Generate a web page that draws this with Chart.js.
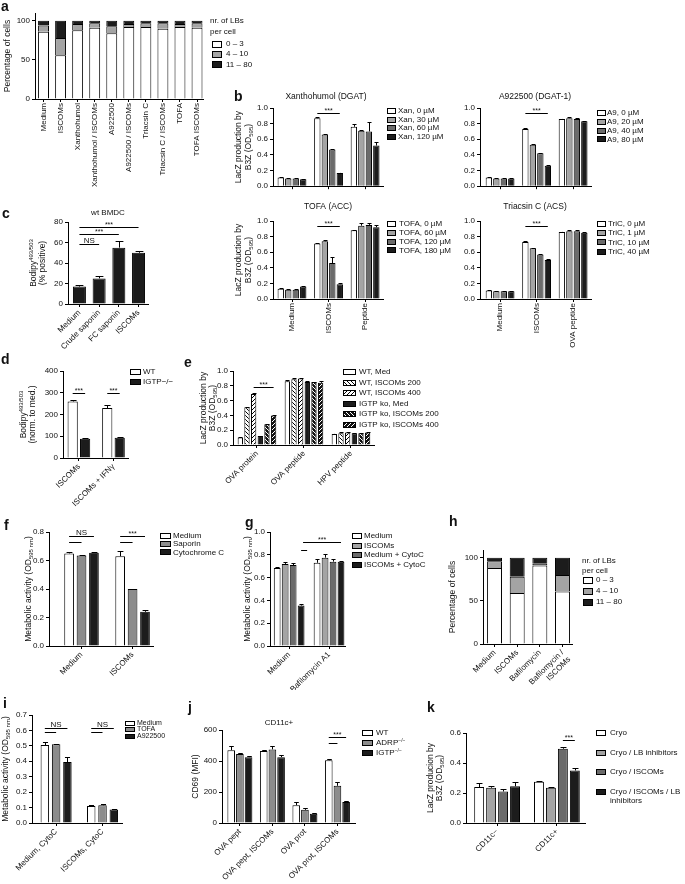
<!DOCTYPE html>
<html lang="en">
<head>
<meta charset="UTF-8">
<title>Lipid bodies figure</title>
<script src="https://cdn.jsdelivr.net/npm/chart.js@4.4.1/dist/chart.umd.min.js"></script>
<style>
  body { margin: 0; background: #fff; }
  #fig { position: relative; width: 685px; height: 884px; overflow: hidden; }
  #fig canvas { position: absolute; }
</style>
</head>
<body>
<div id="fig"></div>
<script>
// ---- data ----
const lbLabels = ['0 \u2013 3', '4 \u2013 10', '11 \u2013 80'];

const aCats = ['Medium', 'ISCOMs', 'Xanthohumol', 'Xanthohumol / ISCOMs', 'A922500', 'A922500 / ISCOMs',
  'Triacsin C', 'Triacsin C / ISCOMs', 'TOFA', 'TOFA ISCOMs'];
const aLow  = [86, 56, 88, 91, 84, 92, 92, 90, 92, 91];
const aMid  = [8, 22, 8, 6, 9, 4, 5, 7, 4, 6];
const aHigh = [6, 22, 4, 3, 7, 4, 3, 3, 4, 3];
const aTicks = [0, 50, 100];

const bCats = ['Medium', 'ISCOMs', 'Peptide'];
const bCatsOva = ['Medium', 'ISCOMs', 'OVA peptide'];
const odTicks = [0, 0.2, 0.4, 0.6, 0.8, 1.0];
const xanLabels = ['Xan, 0 \u00b5M', 'Xan, 30 \u00b5M', 'Xan, 60 \u00b5M', 'Xan, 120 \u00b5M'];
const xanVals = [[0.11, 0.87, 0.76], [0.10, 0.66, 0.71], [0.10, 0.47, 0.70], [0.09, 0.17, 0.52]];
const xanErr  = [[0.005, 0.01, 0.03], [0.005, 0.005, 0.01], [0.005, 0.01, 0.12], [0.005, 0.005, 0.04]];
const a9Labels = ['A9, 0 \u00b5M', 'A9, 20 \u00b5M', 'A9, 40 \u00b5M', 'A9, 80 \u00b5M'];
const a9Vals = [[0.11, 0.73, 0.86], [0.10, 0.53, 0.87], [0.10, 0.42, 0.86], [0.10, 0.26, 0.83]];
const a9Err  = [[0.005, 0.01, 0.005], [0.005, 0.01, 0.01], [0.005, 0.01, 0.01], [0.005, 0.01, 0.01]];
const tofaLabels = ['TOFA, 0 \u00b5M', 'TOFA, 60 \u00b5M', 'TOFA, 120 \u00b5M', 'TOFA, 180 \u00b5M'];
const tofaVals = [[0.13, 0.71, 0.88], [0.12, 0.74, 0.94], [0.12, 0.46, 0.95], [0.16, 0.19, 0.92]];
const tofaErr  = [[0.01, 0.01, 0.01], [0.005, 0.02, 0.03], [0.005, 0.08, 0.02], [0.01, 0.01, 0.03]];
const tricLabels = ['TriC, 0 \u00b5M', 'TriC, 1 \u00b5M', 'TriC, 10 \u00b5M', 'TriC, 40 \u00b5M'];
const tricVals = [[0.11, 0.73, 0.86], [0.10, 0.65, 0.87], [0.10, 0.57, 0.87], [0.10, 0.50, 0.85]];
const tricErr  = [[0.01, 0.01, 0.005], [0.005, 0.01, 0.01], [0.005, 0.01, 0.02], [0.005, 0.01, 0.005]];

const cCats = ['Medium', 'Crude saponin', 'FC saponin', 'ISCOMs'];
const cVals = [17, 25, 55, 50];
const cErr  = [2, 2, 6, 2];

const dCats = ['ISCOMs', 'ISCOMs + IFN\u03b3'];
const dWT = [260, 230], dWTerr = [5, 15];
const dKO = [88, 93],   dKOerr = [6, 4];

const eCats = ['OVA protein', 'OVA peptide', 'HPV peptide'];
const eLabels = ['WT, Med', 'WT, ISCOMs 200', 'WT, ISCOMs 400', 'IGTP ko, Med', 'IGTP ko, ISCOMs 200', 'IGTP ko, ISCOMs 400'];
const eVals = [[0.10, 0.86, 0.15], [0.51, 0.89, 0.16], [0.69, 0.90, 0.17],
               [0.12, 0.85, 0.16], [0.28, 0.85, 0.16], [0.40, 0.84, 0.17]];
const eErr  = [[0.005, 0.02, 0.005], [0.01, 0.01, 0.01], [0.01, 0.01, 0.01],
               [0.005, 0.01, 0.005], [0.005, 0.005, 0.005], [0.01, 0.03, 0.01]];

const fCats = ['Medium', 'ISCOMs'];
const fLabels = ['Medium', 'Saporin', 'Cytochrome C'];
const fVals = [[0.65, 0.63], [0.635, 0.40], [0.655, 0.24]];
const fErr  = [[0.01, 0.04], [0.003, 0.003], [0.002, 0.01]];

const gCats = ['Medium', 'Bafilomycin A1'];
const gLabels = ['Medium', 'ISCOMs', 'Medium + CytoC', 'ISCOMs + CytoC'];
const gVals = [[0.685, 0.73], [0.72, 0.775], [0.71, 0.74], [0.355, 0.74]];
const gErr  = [[0.01, 0.03], [0.02, 0.03], [0.02, 0.02], [0.01, 0.01]];

const hCats = ['Medium', 'ISCOMs', 'Bafilomycin', ['Bafilomycin /', 'ISCOMs']];
const hLow  = [88, 59, 91, 61];
const hMid  = [8, 19, 2, 19];
const hHigh = [4, 22, 7, 20];

const iCats = ['Medium, CytoC', 'ISCOMs, CytoC'];
const iLabels = ['Medium', 'TOFA', 'A922500'];
const iVals = [[0.505, 0.11], [0.51, 0.115], [0.395, 0.088]];
const iErr  = [[0.02, 0.005], [0.003, 0.01], [0.03, 0.003]];

const jCats = ['OVA pept', 'OVA pept, ISCOMs', 'OVA prot', 'OVA prot, ISCOMs'];
const jLabels = ['WT', 'ADRP^{\u2212/\u2212}', 'IGTP^{\u2212/\u2212}'];
const jVals = [[470, 465, 115, 405], [445, 475, 85, 240], [425, 425, 60, 135]];
const jErr  = [[30, 8, 20, 8], [5, 25, 10, 25], [10, 15, 5, 8]];

const kCats = ['CD11c\u2212', 'CD11c+'];
const kLabels = ['Cryo', 'Cryo / LB inhibitors', 'Cryo / ISCOMs', ['Cryo / ISCOMs / LB', 'inhibitors']];
const kVals = [[0.24, 0.275], [0.235, 0.235], [0.21, 0.495], [0.245, 0.35]];
const kErr  = [[0.03, 0.003], [0.015, 0.008], [0.02, 0.01], [0.03, 0.02]];

// ---- style ----
const FONT = "'Liberation Sans', Arial, sans-serif";
const W = '#ffffff', G1 = '#a4a4a4', G2 = '#6b6b6b', GM = '#8c8c8c', K = '#1c1c1c';
Chart.defaults.font.family = FONT;
Chart.defaults.font.size = 8;
Chart.defaults.color = '#111';

const fig = document.getElementById('fig');

function hatch(bg, fg, dir) {
  const s = 4, c = document.createElement('canvas');
  c.width = c.height = s;
  const x = c.getContext('2d');
  x.fillStyle = bg; x.fillRect(0, 0, s, s);
  x.strokeStyle = fg; x.lineWidth = 1;
  x.beginPath();
  if (dir > 0) { x.moveTo(-1, s + 1); x.lineTo(s + 1, -1); }
  else { x.moveTo(-1, -1); x.lineTo(s + 1, s + 1); }
  x.stroke();
  return x.createPattern(c, 'repeat');
}

// text with _{sub} and ^{sup}
function drawRich(ctx, s, x, y, size, align) {
  const parts = [];
  const re = /([_^])\{([^}]*)\}/g;
  let last = 0, m;
  while ((m = re.exec(s))) {
    if (m.index > last) parts.push({ t: s.slice(last, m.index), k: '' });
    parts.push({ t: m[2], k: m[1] });
    last = re.lastIndex;
  }
  if (last < s.length) parts.push({ t: s.slice(last), k: '' });
  const small = Math.round(size * 0.68);
  let w = 0;
  parts.forEach(p => { ctx.font = (p.k ? small : size) + 'px ' + FONT; p.w = ctx.measureText(p.t).width; w += p.w; });
  let cx = align === 'center' ? x - w / 2 : align === 'right' ? x - w : x;
  ctx.textAlign = 'left';
  ctx.textBaseline = 'middle';
  parts.forEach(p => {
    ctx.font = (p.k ? small : size) + 'px ' + FONT;
    const dy = p.k === '_' ? size * 0.3 : p.k === '^' ? -size * 0.35 : 0;
    ctx.fillText(p.t, cx, y + dy);
    cx += p.w;
  });
}

// error bars, significance lines, axis titles, legends, labels
function deco(o) {
  const bx = o.box.x, by = o.box.y;
  return {
    id: 'deco',
    afterDraw(chart) {
      const ctx = chart.ctx, ys = chart.scales.y, ca = chart.chartArea;
      ctx.save();
      ctx.strokeStyle = '#000';
      ctx.lineWidth = 1;
      (o.err || []).forEach((errs, di) => {
        if (!errs) return;
        const ds = chart.data.datasets[di];
        chart.getDatasetMeta(di).data.forEach((el, k) => {
          const e = errs[k];
          if (!e) return;
          const x = Math.round(el.x) + 0.5;
          const y1 = Math.round(ys.getPixelForValue(ds.data[k] + e)) + 0.5;
          const hw = Math.max(2, el.width * 0.3);
          ctx.beginPath();
          ctx.moveTo(x, el.y); ctx.lineTo(x, y1);
          ctx.moveTo(x - hw, y1); ctx.lineTo(x + hw, y1);
          ctx.stroke();
        });
      });
      ctx.fillStyle = '#111';
      (o.sig || []).forEach(s => {
        const px = p => chart.getDatasetMeta(p[1]).data[p[0]].x + (p[2] || 0);
        const x1 = px(s.a), x2 = px(s.b);
        const y = Math.round(ys.getPixelForValue(s.y)) + 0.5;
        ctx.beginPath(); ctx.moveTo(x1, y); ctx.lineTo(x2, y); ctx.stroke();
        if (s.t) {
          const ns = s.t === 'NS';
          ctx.font = (ns ? 8 : 7) + 'px ' + FONT;
          ctx.textAlign = 'center';
          ctx.textBaseline = 'alphabetic';
          ctx.fillText(s.t, (x1 + x2) / 2, y - (ns ? 1.5 : 0.5));
        }
      });
      if (o.yTitle) {
        const cy = (ca.top + ca.bottom) / 2;
        o.yTitle.lines.forEach((ln, i) => {
          ctx.save();
          ctx.translate(o.yTitle.x[i] - bx, cy);
          ctx.rotate(-Math.PI / 2);
          drawRich(ctx, ln, 0, 0, o.yTitle.size || 8.5, 'center');
          ctx.restore();
        });
      }
      const L = o.legend;
      if (L) {
        const fs = L.size || 8;
        (L.head || []).forEach(h => {
          ctx.fillStyle = '#111';
          drawRich(ctx, h[0], h[1] - bx, h[2] - by, fs, 'left');
        });
        L.labels.forEach((lab, i) => {
          const y = L.y + i * L.row - by;
          const rx = Math.round(L.x - bx), ry = Math.round(y - L.bh / 2);
          ctx.fillStyle = L.fills[i];
          ctx.fillRect(rx, ry, L.bw, L.bh);
          ctx.strokeRect(rx + 0.5, ry + 0.5, L.bw - 1, L.bh - 1);
          ctx.fillStyle = '#111';
          [].concat(lab).forEach((t, j) => drawRich(ctx, t, L.tx - bx, y + j * (fs + 1.5), fs, 'left'));
        });
      }
      (o.texts || []).forEach(t => {
        ctx.fillStyle = '#111';
        ctx.font = (t.bold ? 'bold ' : '') + (t.size || 8) + 'px ' + FONT;
        ctx.textAlign = t.align || 'left';
        ctx.textBaseline = t.bold ? 'alphabetic' : 'middle';
        ctx.fillText(t.t, t.x - bx, t.y - by);
      });
      ctx.restore();
    }
  };
}

function panel(o) {
  const c = document.createElement('canvas');
  c.width = o.box.w; c.height = o.box.h;
  c.style.left = o.box.x + 'px';
  c.style.top = o.box.y + 'px';
  fig.appendChild(c);
  const yw = o.yw || 22;
  const xh = o.box.y + o.box.h - o.plot.b;
  const datasets = o.sets.map(s => ({
    data: s.d, backgroundColor: s.c, borderColor: '#000', borderWidth: 1,
    barPercentage: o.bp, categoryPercentage: o.cp
  }));
  new Chart(c, {
    type: 'bar',
    data: { labels: o.cats.map((_, i) => i), datasets },
    options: {
      responsive: false, animation: false, events: [], devicePixelRatio: 1,
      layout: {
        autoPadding: false,
        padding: { left: o.plot.l - o.box.x - yw, top: o.plot.t - o.box.y, right: o.box.x + o.box.w - o.plot.r, bottom: 0 }
      },
      plugins: { legend: { display: false }, tooltip: { enabled: false } },
      scales: {
        x: {
          type: 'linear', min: o.xr[0], max: o.xr[1], offset: false, stacked: !!o.stacked,
          grid: { offset: false, drawOnChartArea: false, tickLength: 3, color: '#000' },
          border: { color: '#000', width: 1 },
          ticks: {
            autoSkip: false, minRotation: o.rot || 0, maxRotation: o.rot || 0, padding: 1,
            font: { size: 8 }, color: '#111',
            callback: v => (o.noX ? '' : o.cats[v])
          },
          afterBuildTicks: s => { s.ticks = o.cats.map((_, i) => ({ value: i })); },
          afterFit: s => { s.height = xh; }
        },
        y: {
          min: 0, max: o.y.max, stacked: !!o.stacked,
          grid: { drawOnChartArea: false, tickLength: 3, color: '#000' },
          border: { color: '#000', width: 1 },
          ticks: { padding: 2, font: { size: 8 }, color: '#111', callback: v => v.toFixed(o.y.dec) },
          afterBuildTicks: s => { s.ticks = o.y.ticks.map(v => ({ value: v })); },
          afterFit: s => { s.width = yw; }
        }
      }
    },
    plugins: [deco(o)]
  });
}

const four = [W, G1, G2, K];
const setsOf = (vals, fills) => vals.map((d, i) => ({ d, c: fills[i] }));
const lacz = ['LacZ production by', 'B3Z (OD_{595})'];

// a
panel({
  box: { x: 0, y: 0, w: 300, h: 195 }, plot: { l: 35, t: 13, r: 203, b: 99 },
  cats: aCats, xr: [-0.5, 9.35], rot: 90, stacked: true,
  y: { max: 110, ticks: aTicks, dec: 0 },
  sets: [{ d: aLow, c: W }, { d: aMid, c: G1 }, { d: aHigh, c: K }], bp: 0.64, cp: 1,
  yTitle: { x: [8], lines: ['Percentage of cells'] },
  legend: { x: 212, y: 44, row: 10.2, bw: 10, bh: 7, tx: 226, labels: lbLabels, fills: [W, G1, K],
    head: [['nr. of LBs', 210, 21], ['per cell', 210, 32]] },
  texts: [{ t: 'a', x: 1, y: 11, bold: true, size: 14 }]
});

// b, four inhibitors
panel({
  box: { x: 225, y: 88, w: 230, h: 105 }, plot: { l: 273, t: 108, r: 383, b: 187 },
  cats: bCats, xr: [-0.52, 2.49], noX: true,
  y: { max: 1, ticks: odTicks, dec: 1 },
  sets: setsOf(xanVals, four), err: xanErr, bp: 0.85, cp: 0.82,
  sig: [{ a: [1, 0], b: [1, 3], y: 0.94, t: '***' }],
  yTitle: { x: [239, 249], lines: lacz },
  legend: { x: 387, y: 111, row: 8.6, bw: 9, bh: 6, tx: 398, labels: xanLabels, fills: four },
  texts: [{ t: 'Xanthohumol (DGAT)', x: 326, y: 97, align: 'center', size: 8.5 },
          { t: 'b', x: 234, y: 101, bold: true, size: 14 }]
});
panel({
  box: { x: 455, y: 88, w: 230, h: 105 }, plot: { l: 480, t: 108, r: 591, b: 187 },
  cats: bCats, xr: [-0.55, 2.49], noX: true,
  y: { max: 1, ticks: odTicks, dec: 1 },
  sets: setsOf(a9Vals, four), err: a9Err, bp: 0.85, cp: 0.82,
  sig: [{ a: [1, 0], b: [1, 3], y: 0.94, t: '***' }],
  legend: { x: 597, y: 113, row: 8.8, bw: 9, bh: 6, tx: 607, labels: a9Labels, fills: four },
  texts: [{ t: 'A922500 (DGAT-1)', x: 535, y: 97, align: 'center', size: 8.5 }]
});
panel({
  box: { x: 225, y: 198, w: 230, h: 152 }, plot: { l: 273, t: 221, r: 383, b: 299 },
  cats: bCats, xr: [-0.52, 2.49], rot: 90,
  y: { max: 1, ticks: odTicks, dec: 1 },
  sets: setsOf(tofaVals, four), err: tofaErr, bp: 0.85, cp: 0.82,
  sig: [{ a: [1, 0], b: [1, 3], y: 0.94, t: '***' }],
  yTitle: { x: [239, 249], lines: lacz },
  legend: { x: 387, y: 224, row: 8.8, bw: 9, bh: 6, tx: 399, labels: tofaLabels, fills: four },
  texts: [{ t: 'TOFA (ACC)', x: 328, y: 207, align: 'center', size: 8.5 }]
});
panel({
  box: { x: 455, y: 198, w: 230, h: 152 }, plot: { l: 480, t: 221, r: 591, b: 299 },
  cats: bCatsOva, xr: [-0.55, 2.49], rot: 90,
  y: { max: 1, ticks: odTicks, dec: 1 },
  sets: setsOf(tricVals, four), err: tricErr, bp: 0.85, cp: 0.82,
  sig: [{ a: [1, 0], b: [1, 3], y: 0.94, t: '***' }],
  legend: { x: 597, y: 224, row: 9.2, bw: 9, bh: 6, tx: 608, labels: tricLabels, fills: four },
  texts: [{ t: 'Triacsin C (ACS)', x: 535, y: 207, align: 'center', size: 8.5 }]
});

// c
panel({
  box: { x: 0, y: 200, w: 225, h: 150 }, plot: { l: 68, t: 222, r: 148, b: 304 },
  cats: cCats, xr: [-0.58, 3.48], rot: 45,
  y: { max: 80, ticks: [0, 20, 40, 60, 80], dec: 0 },
  sets: [{ d: cVals, c: K }], err: [cErr], bp: 0.66, cp: 1,
  sig: [{ a: [0, 0], b: [1, 0], y: 58.5, t: 'NS' }, { a: [0, 0], b: [2, 0], y: 68, t: '***' },
        { a: [0, 0], b: [3, 0], y: 75, t: '***' }],
  yTitle: { x: [34, 43], lines: ['Bodipy^{493/503}', '(% positive)'] },
  texts: [{ t: 'wt BMDC', x: 108, y: 213, align: 'center' }, { t: 'c', x: 2, y: 218, bold: true, size: 14 }]
});

// d
panel({
  box: { x: 0, y: 350, w: 180, h: 160 }, plot: { l: 63, t: 371, r: 128, b: 458 },
  cats: dCats, xr: [-0.46, 1.42], rot: 45,
  y: { max: 400, ticks: [0, 100, 200, 300, 400], dec: 0 },
  sets: [{ d: dWT, c: W }, { d: dKO, c: K }], err: [dWTerr, dKOerr], bp: 0.82, cp: 0.72,
  sig: [{ a: [0, 0], b: [0, 1], y: 300, t: '***' }, { a: [1, 0], b: [1, 1], y: 300, t: '***' }],
  yTitle: { x: [24, 33], lines: ['Bodipy^{493/503}', '(norm. to med.)'] },
  legend: { x: 130, y: 372, row: 10, bw: 11, bh: 6, tx: 143, labels: ['WT', 'IGTP\u2212/\u2212'], fills: [W, K] },
  texts: [{ t: 'd', x: 1, y: 364, bold: true, size: 14 }]
});

// e
const eFills = [W, hatch('#fff', '#000', -1), hatch('#fff', '#000', 1), K, hatch('#111', '#fff', -1), hatch('#111', '#fff', 1)];
panel({
  box: { x: 180, y: 350, w: 320, h: 160 }, plot: { l: 233, t: 371, r: 374, b: 445 },
  cats: eCats, xr: [-0.51, 2.49], rot: 45,
  y: { max: 1, ticks: odTicks, dec: 1 },
  sets: setsOf(eVals, eFills), err: eErr, bp: 0.8, cp: 0.85,
  sig: [{ a: [0, 2], b: [0, 5], y: 0.78, t: '***' }],
  yTitle: { x: [204, 213], lines: lacz },
  legend: { x: 343, y: 372, row: 10.5, bw: 13, bh: 6, tx: 359, labels: eLabels, fills: eFills },
  texts: [{ t: 'e', x: 184, y: 367, bold: true, size: 14 }]
});

// f
panel({
  box: { x: 0, y: 490, w: 235, h: 200 }, plot: { l: 49, t: 532, r: 153, b: 646 },
  cats: fCats, xr: [-0.637, 1.40], rot: 45,
  y: { max: 0.8, ticks: [0, 0.2, 0.4, 0.6, 0.8], dec: 1 },
  sets: setsOf(fVals, [W, GM, K]), err: fErr, bp: 0.78, cp: 0.73,
  sig: [{ a: [0, 0], b: [0, 2], y: 0.772, t: 'NS' }, { a: [0, 0], b: [0, 1], y: 0.73 },
        { a: [1, 0], b: [1, 2], y: 0.772, t: '***' }, { a: [1, 0], b: [1, 1], y: 0.73 }],
  yTitle: { x: [29], lines: ['Metabolic activity (OD_{595 nm})'] },
  legend: { x: 160, y: 536, row: 8.2, bw: 11, bh: 6, tx: 173, labels: fLabels, fills: [W, GM, K] },
  texts: [{ t: 'f', x: 4, y: 530, bold: true, size: 14 }]
});

// g
panel({
  box: { x: 235, y: 490, w: 200, h: 200 }, plot: { l: 270, t: 532, r: 345, b: 646 },
  cats: gCats, xr: [-0.48, 1.4], rot: 45,
  y: { max: 1, ticks: odTicks, dec: 1 },
  sets: setsOf(gVals, four), err: gErr, bp: 0.85, cp: 0.8,
  sig: [{ a: [0, 3], b: [0, 3, 6], y: 0.84 }, { a: [1, 0, -14], b: [1, 3], y: 0.91, t: '***' }],
  yTitle: { x: [248], lines: ['Metabolic activity (OD_{595 nm})'] },
  legend: { x: 352, y: 536, row: 9.5, bw: 10, bh: 6, tx: 364, labels: gLabels, fills: four },
  texts: [{ t: 'g', x: 245, y: 527, bold: true, size: 14 }]
});

// h
panel({
  box: { x: 435, y: 490, w: 250, h: 200 }, plot: { l: 483, t: 550, r: 572, b: 644 },
  cats: hCats, xr: [-0.51, 3.42], rot: 45, stacked: true,
  y: { max: 109, ticks: aTicks, dec: 0 },
  sets: [{ d: hLow, c: W }, { d: hMid, c: G1 }, { d: hHigh, c: K }], bp: 0.66, cp: 1,
  yTitle: { x: [453], lines: ['Percentage of cells'] },
  legend: { x: 583, y: 580, row: 11, bw: 10, bh: 7, tx: 596, labels: lbLabels, fills: [W, G1, K],
    head: [['nr. of LBs', 582, 561], ['per cell', 582, 571]] },
  texts: [{ t: 'h', x: 449, y: 526, bold: true, size: 14 }]
});

// i
panel({
  box: { x: 0, y: 690, w: 185, h: 194 }, plot: { l: 32, t: 715, r: 122, b: 823 },
  cats: iCats, xr: [-0.52, 1.42], rot: 45,
  y: { max: 0.7, ticks: [0, 0.1, 0.2, 0.3, 0.4, 0.5, 0.6, 0.7], dec: 1 },
  sets: setsOf(iVals, [W, GM, K]), err: iErr, bp: 0.75, cp: 0.73,
  sig: [{ a: [0, 0], b: [0, 2], y: 0.616, t: 'NS' }, { a: [0, 0], b: [0, 1], y: 0.59 },
        { a: [1, 0], b: [1, 2], y: 0.616, t: 'NS' }, { a: [1, 0], b: [1, 1], y: 0.59 }],
  yTitle: { x: [6], lines: ['Metabolic activity (OD_{595 nm})'] },
  legend: { x: 125, y: 723, row: 6.5, bw: 10, bh: 5, tx: 137, size: 7, labels: iLabels, fills: [W, GM, K] },
  texts: [{ t: 'i', x: 3, y: 708, bold: true, size: 14 }]
});

// j
panel({
  box: { x: 185, y: 690, w: 240, h: 194 }, plot: { l: 222, t: 730, r: 355, b: 823 },
  cats: jCats, xr: [-0.55, 3.54], rot: 45,
  y: { max: 600, ticks: [0, 200, 400, 600], dec: 0 },
  sets: setsOf(jVals, [W, GM, K]), err: jErr, bp: 0.88, cp: 0.8,
  sig: [{ a: [3, 0], b: [3, 2], y: 555, t: '***' }, { a: [3, 0], b: [3, 1], y: 516 }],
  yTitle: { x: [196], lines: ['CD69 (MFI)'] },
  legend: { x: 362, y: 733, row: 10, bw: 11, bh: 6, tx: 376, labels: jLabels, fills: [W, GM, K] },
  texts: [{ t: 'j', x: 188, y: 712, bold: true, size: 14 }, { t: 'CD11c+', x: 279, y: 723, align: 'center' }]
});

// k
panel({
  box: { x: 425, y: 690, w: 260, h: 194 }, plot: { l: 466, t: 733, r: 585, b: 823 },
  cats: kCats, xr: [-0.52, 1.47], rot: 45,
  y: { max: 0.6, ticks: [0, 0.2, 0.4, 0.6], dec: 1 },
  sets: setsOf(kVals, four), err: kErr, bp: 0.83, cp: 0.8,
  sig: [{ a: [1, 2], b: [1, 3], y: 0.553, t: '***' }],
  yTitle: { x: [431, 440], lines: ['LacZ producion by', 'B3Z (OD_{595})'] },
  legend: { x: 596, y: 733, row: 19.5, bw: 10, bh: 6, tx: 610, labels: kLabels, fills: four },
  texts: [{ t: 'k', x: 427, y: 712, bold: true, size: 14 }]
});
</script>
</body>
</html>
